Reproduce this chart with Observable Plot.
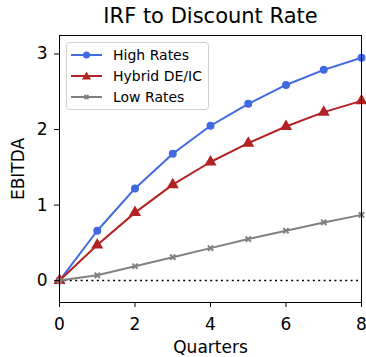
<!DOCTYPE html>
<html>
<head>
<meta charset="utf-8">
<script src="https://cdn.jsdelivr.net/npm/d3@7"></script>
<script src="https://cdn.jsdelivr.net/npm/@observablehq/plot@0.6"></script>
<style>
  html, body { margin: 0; padding: 0; background: #fff; }
  #wrap { position: relative; width: 366px; height: 357px; font-family: "DejaVu Sans", sans-serif; }
  #legend { position: absolute; left: 66px; top: 42px; width: 143px; height: 68px; border: 1px solid #d0d0d0; border-radius: 4px; background: rgba(255,255,255,0.8); box-sizing: border-box; }
  .row { position: absolute; left: 0; height: 20px; display: flex; align-items: center; font-size: 14px; color: #000; }
  .row svg { margin-left: 4px; margin-right: 11px; }
</style>
</head>
<body>
<div id="wrap"></div>
<script>
const quarters = [0, 1, 2, 3, 4, 5, 6, 7, 8];
const highRates = [0, 0.66, 1.22, 1.68, 2.05, 2.34, 2.59, 2.79, 2.95];
const hybrid = [0, 0.47, 0.90, 1.27, 1.57, 1.82, 2.04, 2.23, 2.38];
const lowRates = [0, 0.07, 0.19, 0.31, 0.43, 0.55, 0.66, 0.77, 0.87];
const seriesNames = ["High Rates", "Hybrid DE/IC", "Low Rates"];
const seriesColors = ["#4169E1", "#B22222", "#808080"];
const xTicks = [0, 2, 4, 6, 8];
const yTicks = [0, 1, 2, 3];
const titleText = "IRF to Discount Rate";

const seriesValues = [highRates, hybrid, lowRates];
const data = seriesNames.flatMap((name, i) =>
  quarters.map((q, j) => ({ series: name, q, v: seriesValues[i][j] })));
const bySeries = name => data.filter(d => d.series === name);

const chart = Plot.plot({
  width: 366,
  height: 357,
  marginLeft: 59,
  marginRight: 5,
  marginTop: 35,
  marginBottom: 55,
  style: { fontFamily: "DejaVu Sans, sans-serif", fontSize: "17px", background: "#fff", color: "#000", overflow: "visible" },
  x: { domain: [0, 8] },
  y: { domain: [-0.29, 3.245] },
  marks: [
    Plot.ruleY([0], { stroke: "black", strokeWidth: 1.5, strokeDasharray: "2,3.4" }),
    Plot.line(bySeries("High Rates"), { x: "q", y: "v", stroke: seriesColors[0], strokeWidth: 2 }),
    Plot.dot(bySeries("High Rates"), { x: "q", y: "v", fill: seriesColors[0], r: 4, symbol: "circle" }),
    Plot.line(bySeries("Hybrid DE/IC"), { x: "q", y: "v", stroke: seriesColors[1], strokeWidth: 2 }),
    Plot.dot(bySeries("Hybrid DE/IC"), { x: "q", y: "v", fill: seriesColors[1], r: 4.5, symbol: "triangle" }),
    Plot.line(bySeries("Low Rates"), { x: "q", y: "v", stroke: seriesColors[2], strokeWidth: 2 }),
    Plot.dot(bySeries("Low Rates"), { x: "q", y: "v", stroke: seriesColors[2], fill: "none", strokeWidth: 2, r: 2.5, symbol: "times" }),
    Plot.frame({ stroke: "black", strokeWidth: 1 }),
    Plot.axisX({ ticks: xTicks, tickSize: 5, tickPadding: 10, tickFormat: d => String(d), label: "Quarters", labelAnchor: "center", labelArrow: "none", labelOffset: 50, fontSize: 17 }),
    Plot.axisY({ ticks: yTicks, tickSize: 5, tickPadding: 7, tickFormat: d => String(d), label: "EBITDA", labelAnchor: "center", labelArrow: "none", labelOffset: 48, fontSize: 17 }),
    Plot.text([titleText], { text: d => d, frameAnchor: "top", dy: -13, fontSize: 21, lineAnchor: "bottom" })
  ]
});
const wrap = document.getElementById("wrap");
wrap.appendChild(chart);

const legend = document.createElement("div");
legend.id = "legend";
const markerSvg = i => {
  const c = seriesColors[i];
  let m = "";
  if (i === 0) m = `<circle cx="15.5" cy="6" r="3.5" fill="${c}"/>`;
  else if (i === 1) m = `<path d="M15.5,1.5 L20,9.5 L11,9.5 Z" fill="${c}"/>`;
  else m = `<path d="M13.5,4 L17.5,8 M17.5,4 L13.5,8" stroke="${c}" stroke-width="2"/>`;
  return `<svg width="31" height="12" viewBox="0 0 31 12"><line x1="0" x2="31" y1="6" y2="6" stroke="${c}" stroke-width="2"/>${m}</svg>`;
};
seriesNames.forEach((name, i) => {
  const row = document.createElement("div");
  row.className = "row";
  row.style.top = (2 + i * 21) + "px";
  row.innerHTML = markerSvg(i) + `<span>${name}</span>`;
  legend.appendChild(row);
});
wrap.appendChild(legend);
</script>
</body>
</html>
